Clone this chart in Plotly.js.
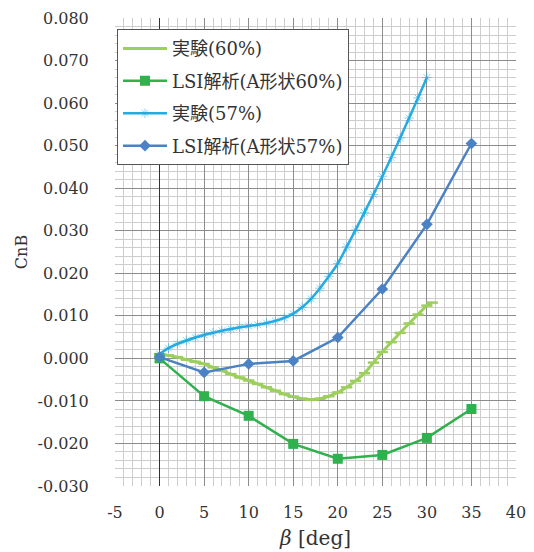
<!DOCTYPE html>
<html>
<head>
<meta charset="utf-8">
<script src="https://cdn.plot.ly/plotly-3.0.1.min.js"></script>
<style>html,body{margin:0;padding:0;background:#fff;}#chart{width:534px;height:552px;}</style>
</head>
<body>
<div id="chart"></div>
<script>
// ---- data ----
const seriesNames = ["実験(60%)", "LSI解析(A形状60%)", "実験(57%)", "LSI解析(A形状57%)"];

const exp60Beta = [0, 1, 2, 3, 4, 5, 6, 7, 8, 9, 10, 11, 12, 13, 14, 15, 16, 17, 18, 19, 20, 21, 22, 23, 24, 25, 26, 27, 28, 29, 30, 30.6];
const exp60Cn   = [0.0010, 0.0007, 0.0003, -0.0003, -0.0008, -0.0013, -0.0021, -0.0029, -0.0037, -0.0045, -0.0052, -0.0060, -0.0068, -0.0076, -0.0084, -0.0090, -0.0095, -0.0097, -0.0095, -0.0089, -0.0080, -0.0068, -0.0053, -0.0035, -0.0010, 0.0015, 0.0038, 0.0060, 0.0082, 0.0103, 0.0124, 0.0131];

const lsi60Beta = [0, 5, 10, 15, 20, 25, 30, 35];
const lsi60Cn   = [0.0000, -0.0089, -0.0135, -0.0201, -0.0236, -0.0227, -0.0187, -0.0119];

const exp57Beta = [0, 1, 2, 3, 4, 5, 6, 7, 8, 9, 10, 11, 12, 13, 14, 15, 16, 17, 18, 19, 20, 21, 22, 23, 24, 25, 26, 27, 28, 29, 30];
const exp57Cn   = [0.0010, 0.0024, 0.0034, 0.0042, 0.0049, 0.0055, 0.0060, 0.0065, 0.0069, 0.0073, 0.0076, 0.0079, 0.0083, 0.0088, 0.0095, 0.0105, 0.0120, 0.0140, 0.0165, 0.0193, 0.0223, 0.0262, 0.0302, 0.0343, 0.0385, 0.0428, 0.0472, 0.0518, 0.0565, 0.0612, 0.0660];

const lsi57Beta = [0, 5, 10, 15, 20, 25, 30, 35];
const lsi57Cn   = [0.0003, -0.0033, -0.0013, -0.0006, 0.0049, 0.0163, 0.0315, 0.0505];

const xTickVals = [-5, 0, 5, 10, 15, 20, 25, 30, 35, 40];
const xTickText = ["-5", "0", "5", "10", "15", "20", "25", "30", "35", "40"];
const yTickVals = [-0.03, -0.02, -0.01, 0, 0.01, 0.02, 0.03, 0.04, 0.05, 0.06, 0.07, 0.08];
const yTickText = ["-0.030", "-0.020", "-0.010", "0.000", "0.010", "0.020", "0.030", "0.040", "0.050", "0.060", "0.070", "0.080"];

// ---- chart ----
const FONT = "'DejaVu Serif', 'Noto Sans CJK JP', serif";

const traces = [
  {
    x: exp60Beta, y: exp60Cn, name: seriesNames[0], legendgroup: "a",
    type: "scatter", mode: "lines+markers",
    line: {color: "#9ccf5c", width: 3, shape: "spline"},
    marker: {symbol: "line-ew", size: 8, color: "#9ccf5c", line: {color: "#9ccf5c", width: 2.5}}
  },
  {
    x: lsi60Beta, y: lsi60Cn, name: seriesNames[1], legendgroup: "b",
    type: "scatter", mode: "lines+markers",
    line: {color: "#2fb14e", width: 2.5},
    marker: {symbol: "square", size: 10, color: "#2fb14e"}
  },
  {
    x: exp57Beta, y: exp57Cn, name: seriesNames[2], legendgroup: "c",
    type: "scatter", mode: "lines+markers",
    line: {color: "#25aae2", width: 2.5, shape: "spline"},
    marker: {symbol: "asterisk-open", size: 8, color: "rgba(37,170,226,0.55)", line: {color: "rgba(37,170,226,0.55)", width: 1}}
  },
  {
    x: lsi57Beta, y: lsi57Cn, name: seriesNames[3], legendgroup: "d",
    type: "scatter", mode: "lines+markers",
    line: {color: "#4a82c3", width: 2.5},
    marker: {symbol: "diamond", size: 9, color: "#4a82c3"}
  }
];

const layout = {
  width: 534, height: 552,
  margin: {l: 115, r: 18, t: 18, b: 66},
  paper_bgcolor: "#ffffff", plot_bgcolor: "#ffffff",
  font: {family: FONT, size: 15, color: "#333"},
  showlegend: true,
  legend: {
    x: 0.005, y: 0.976, xanchor: "left", yanchor: "top",
    bgcolor: "#ffffff", bordercolor: "#555", borderwidth: 1,
    font: {family: FONT, size: 18, color: "#333"},
    tracegroupgap: 6, itemwidth: 44,
    traceorder: "grouped"
  },
  xaxis: {
    range: [-5, 40], tickvals: xTickVals, ticktext: xTickText,
    showgrid: true, gridcolor: "#8c8c8c", gridwidth: 1,
    minor: {dtick: 1, showgrid: true, gridcolor: "#cdcdcd", gridwidth: 1},
    zeroline: true, zerolinecolor: "#333", zerolinewidth: 1.2,
    showline: false,
    ticks: "outside", ticklen: 12, tickcolor: "rgba(0,0,0,0)",
    tickfont: {family: FONT, size: 16, color: "#333"},
    title: {text: "<i>β</i> [deg]", font: {family: FONT, size: 20, color: "#333"}, standoff: 9},
    fixedrange: true
  },
  yaxis: {
    range: [-0.03, 0.08], tickvals: yTickVals, ticktext: yTickText,
    showgrid: true, gridcolor: "#8c8c8c", gridwidth: 1,
    minor: {dtick: 0.002, showgrid: true, gridcolor: "#cdcdcd", gridwidth: 1},
    zeroline: false,
    showline: false,
    ticks: "outside", ticklen: 22, tickcolor: "rgba(0,0,0,0)",
    tickfont: {family: FONT, size: 16, color: "#333"},
    title: {text: "CnB", font: {family: FONT, size: 16, color: "#333"}, standoff: 5},
    fixedrange: true
  }
};

Plotly.newPlot("chart", traces, layout, {displayModeBar: false, staticPlot: true});
</script>
</body>
</html>
